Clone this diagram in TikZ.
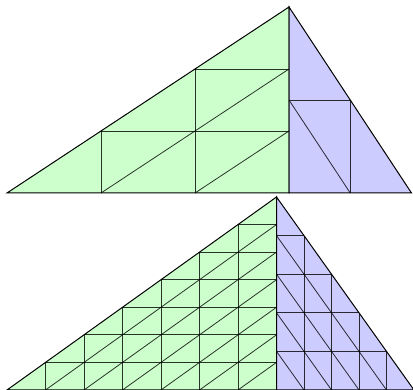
\documentclass[tikz,border=0pt]{standalone}
\definecolor{gfill}{HTML}{CCFFCC}
\definecolor{bfill}{HTML}{CCCCFF}
\tikzset{
  innerline/.style={line width=0.8pt, draw=black, draw opacity=0.8},
  outerline/.style={line width=1pt, draw=black, line join=miter, line cap=butt},
}
% green right triangle: #1 left x, #2 right x (apex x), #3 apex y, #4 base y, #5 divisions
\newcommand{\greenpart}[5]{%
  \fill[gfill] (#1,#4) -- (#2,#3) -- (#2,#4) -- cycle;
  \pgfmathtruncatemacro{\nm}{#5-1}
  \foreach \k in {1,...,\nm}{
    \pgfmathsetmacro{\xk}{#1+(#2-#1)*\k/#5}
    \pgfmathsetmacro{\yk}{#4-(#4-#3)*\k/#5}
    \pgfmathsetmacro{\yd}{#4-(#4-#3)*(#5-\k)/#5}
    \draw[innerline] (\xk,\yk) -- (#2,\yk);
    \draw[innerline] (\xk,#4) -- (\xk,\yk);
    \draw[innerline] (\xk,#4) -- (#2,\yd);
  }
  \draw[outerline] (#1,#4) -- (#2,#3) -- (#2,#4) -- cycle;
}
% blue right triangle: #1 apex x (left), #2 right x, #3 apex y, #4 base y, #5 divisions
\newcommand{\bluepart}[5]{%
  \fill[bfill] (#1,#3) -- (#2,#4) -- (#1,#4) -- cycle;
  \pgfmathtruncatemacro{\mm}{#5-1}
  \foreach \j in {1,...,\mm}{
    \pgfmathsetmacro{\yj}{#4-(#4-#3)*\j/#5}
    \pgfmathsetmacro{\xh}{#1+(#2-#1)*(#5-\j)/#5}
    \pgfmathsetmacro{\xj}{#1+(#2-#1)*\j/#5}
    \pgfmathsetmacro{\yv}{#4-(#4-#3)*(#5-\j)/#5}
    \draw[innerline] (#1,\yj) -- (\xh,\yj);
    \draw[innerline] (\xj,#4) -- (\xj,\yv);
    \draw[innerline] (#1,\yj) -- (\xj,#4);
  }
  \draw[outerline] (#1,#3) -- (#2,#4) -- (#1,#4) -- cycle;
}
\begin{document}
\begin{tikzpicture}[x=1pt,y=-1pt]
\useasboundingbox (0,0) rectangle (413,390);
\begin{scope}
\clip (0,0) rectangle (413,390);
% top triangle
\greenpart{7}{289}{7}{193}{3}
\bluepart{289}{411.5}{7}{193}{2}
% bottom triangle
\greenpart{7}{276.5}{197}{390}{7}
\bluepart{276.5}{414}{197}{390}{5}
\end{scope}
\end{tikzpicture}
\end{document}
